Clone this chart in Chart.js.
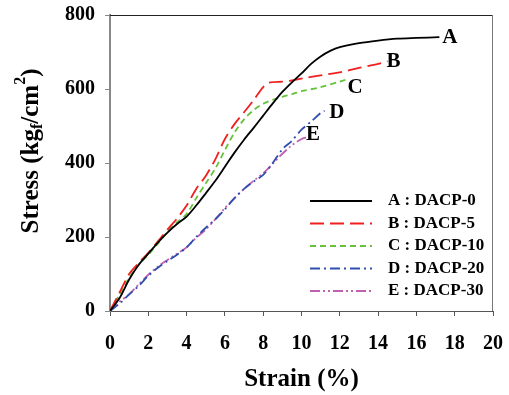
<!DOCTYPE html>
<html>
<head>
<meta charset="utf-8">
<script src="https://cdn.jsdelivr.net/npm/chart.js@4/dist/chart.umd.min.js"></script>
<style>
html, body { margin: 0; padding: 0; background: #fff; }
#wrap { width: 509px; height: 395px; }
</style>
</head>
<body>
<div id="wrap"><canvas id="chart-stress"></canvas></div>
<script>
const strainA = [0, 0.5, 1, 1.5, 2, 2.5, 3, 3.5, 4, 4.5, 5, 5.5, 6, 6.5, 7, 7.5, 8, 8.5, 9, 9.5, 10, 10.5, 11, 11.5, 12, 13, 14, 15, 16, 17.2];
const stressA = [0, 35, 85, 125, 155, 185, 212, 235, 255, 285, 318, 352, 390, 428, 463, 495, 528, 561, 592, 618, 642, 668, 688, 703, 713, 724, 731, 736, 738, 740];

const strainB = [0, 0.5, 1, 1.5, 2, 2.5, 3, 3.5, 4, 4.5, 5, 5.5, 6, 6.5, 7, 7.5, 8, 8.3, 9, 9.5, 10, 11, 12, 13, 14, 14.5];
const stressB = [0, 50, 100, 130, 157, 188, 220, 250, 285, 330, 365, 410, 465, 505, 537, 570, 605, 617, 620, 623, 628, 637, 645, 657, 668, 675];

const strainC = [0, 0.5, 1, 1.5, 2, 2.5, 3, 3.5, 4, 4.5, 5, 5.5, 6, 6.5, 7, 7.5, 8, 8.5, 9, 9.5, 10, 11, 12, 12.3];
const stressC = [0, 45, 90, 125, 152, 182, 214, 240, 262, 305, 345, 385, 435, 482, 518, 543, 560, 571, 579, 586, 594, 605, 620, 625];

const strainD = [0, 0.5, 1, 1.5, 2, 2.5, 3, 3.5, 4, 4.5, 5, 5.5, 6, 6.5, 7, 7.5, 8, 8.5, 9, 9.5, 10, 10.5, 11, 11.2];
const stressD = [0, 20, 45, 68, 95, 117, 135, 152, 172, 200, 225, 248, 275, 305, 330, 350, 368, 400, 437, 460, 490, 512, 535, 541];

const strainE = [0, 0.5, 1, 1.5, 2, 2.5, 3, 3.5, 4, 4.5, 5, 5.5, 6, 6.5, 7, 7.5, 8, 8.5, 9, 9.5, 10, 10.3];
const stressE = [0, 25, 45, 72, 98, 120, 138, 155, 172, 198, 220, 248, 278, 305, 330, 352, 372, 398, 425, 448, 465, 470];

const seriesNames = ['A : DACP-0', 'B : DACP-5', 'C : DACP-10', 'D : DACP-20', 'E : DACP-30'];
const endLabels = ['A', 'B', 'C', 'D', 'E'];
const endLabelAt = [[17.75, 740], [14.8, 673], [12.8, 605], [11.85, 535], [10.6, 476]];

const xTicks = [0, 2, 4, 6, 8, 10, 12, 14, 16, 18, 20];
const yTicks = [0, 200, 400, 600, 800];

const serif = "'Liberation Serif', 'DejaVu Serif', serif";

function toPoints(xs, ys) {
    return xs.map((x, i) => ({ x: x, y: ys[i] }));
}

const styles = [
    { color: '#000000', dash: [] },
    { color: '#f02020', dash: [14, 6] },
    { color: '#66c23a', dash: [6, 4] },
    { color: '#2f4fb0', dash: [10, 4, 2, 4] },
    { color: '#c060b0', dash: [10, 3, 2, 3, 2, 3] }
];

const allX = [strainA, strainB, strainC, strainD, strainE];
const allY = [stressA, stressB, stressC, stressD, stressE];

const datasets = seriesNames.map((name, i) => ({
    label: name,
    data: toPoints(allX[i], allY[i]),
    borderColor: styles[i].color,
    borderDash: styles[i].dash,
    borderWidth: 1.8,
    pointRadius: 0,
    fill: false,
    tension: 0.3
}));

// extra drawing: frame, end letters, y title, legend
const extras = {
    id: 'extras',
    afterDraw(chart) {
        const ctx = chart.ctx;
        const a = chart.chartArea;
        const xs = chart.scales.x, ys = chart.scales.y;
        ctx.save();
        // frame top and right
        ctx.strokeStyle = '#222';
        ctx.lineWidth = 1;
        ctx.beginPath();
        ctx.moveTo(a.left, a.top + 0.5);
        ctx.lineTo(a.right, a.top + 0.5);
        ctx.stroke();
        ctx.strokeStyle = '#777';
        ctx.beginPath();
        ctx.moveTo(a.right - 0.5, a.top);
        ctx.lineTo(a.right - 0.5, a.bottom);
        ctx.stroke();

        // end letters
        ctx.fillStyle = '#000';
        ctx.font = 'bold 21px ' + serif;
        ctx.textAlign = 'center';
        ctx.textBaseline = 'middle';
        endLabels.forEach((t, i) => {
            ctx.fillText(t, xs.getPixelForValue(endLabelAt[i][0]), ys.getPixelForValue(endLabelAt[i][1]));
        });

        // y title with sub/superscript
        ctx.save();
        ctx.translate(32, 151);
        ctx.rotate(-Math.PI / 2);
        const parts = [
            { t: 'Stress (kg', size: 25, dy: 0 },
            { t: 'f', size: 16, dy: 6 },
            { t: '/cm', size: 25, dy: 0 },
            { t: '2', size: 16, dy: -11 },
            { t: ')', size: 25, dy: 0 }
        ];
        let total = 0;
        parts.forEach(p => { ctx.font = 'bold ' + p.size + 'px ' + serif; total += ctx.measureText(p.t).width; });
        let px = -total / 2;
        ctx.textAlign = 'left';
        ctx.textBaseline = 'middle';
        parts.forEach(p => {
            ctx.font = 'bold ' + p.size + 'px ' + serif;
            ctx.fillText(p.t, px, p.dy);
            px += ctx.measureText(p.t).width;
        });
        ctx.restore();

        // legend inside plot
        ctx.font = 'bold 17px ' + serif;
        ctx.textAlign = 'left';
        ctx.textBaseline = 'middle';
        chart.data.datasets.forEach((ds, i) => {
            const y = 201 + i * 22.5;
            ctx.strokeStyle = ds.borderColor;
            ctx.lineWidth = 1.8;
            ctx.setLineDash(ds.borderDash);
            ctx.beginPath();
            ctx.moveTo(310, y);
            ctx.lineTo(372, y);
            ctx.stroke();
            ctx.setLineDash([]);
            ctx.fillStyle = '#000';
            ctx.fillText(ds.label, 388, y);
        });
        ctx.restore();
    }
};

const config = {
    type: 'line',
    data: { datasets: datasets },
    options: {
        responsive: true,
        maintainAspectRatio: false,
        animation: false,
        layout: { padding: { top: 15, right: 16, left: 0, bottom: 0 } },
        plugins: {
            legend: { display: false },
            tooltip: { enabled: false }
        },
        scales: {
            x: {
                type: 'linear',
                min: 0,
                max: 20,
                afterBuildTicks(scale) { scale.ticks = xTicks.map(v => ({ value: v })); },
                afterFit(scale) { scale.height = 84; scale.paddingLeft = 0; scale.paddingRight = 0; },
                ticks: { color: '#000', font: { family: serif, size: 20, weight: 'bold' }, padding: 16, maxRotation: 0 },
                grid: { drawOnChartArea: false, tickLength: 5, color: '#555' },
                border: { color: '#555', width: 1 },
                title: { display: true, text: 'Strain (%)', color: '#000', font: { family: serif, size: 25, weight: 'bold' }, padding: { top: 4, bottom: 0 } }
            },
            y: {
                type: 'linear',
                min: 0,
                max: 800,
                afterBuildTicks(scale) { scale.ticks = yTicks.map(v => ({ value: v })); },
                afterFit(scale) { scale.width = 110; scale.paddingTop = 0; scale.paddingBottom = 0; },
                ticks: { color: '#000', font: { family: serif, size: 20, weight: 'bold' }, padding: 10 },
                grid: { drawOnChartArea: false, tickLength: 5, color: '#888' },
                border: { color: '#888', width: 2 }
            }
        }
    },
    plugins: [extras]
};

const myChart = new Chart(
    document.getElementById('chart-stress'),
    config
);
</script>
</body>
</html>
